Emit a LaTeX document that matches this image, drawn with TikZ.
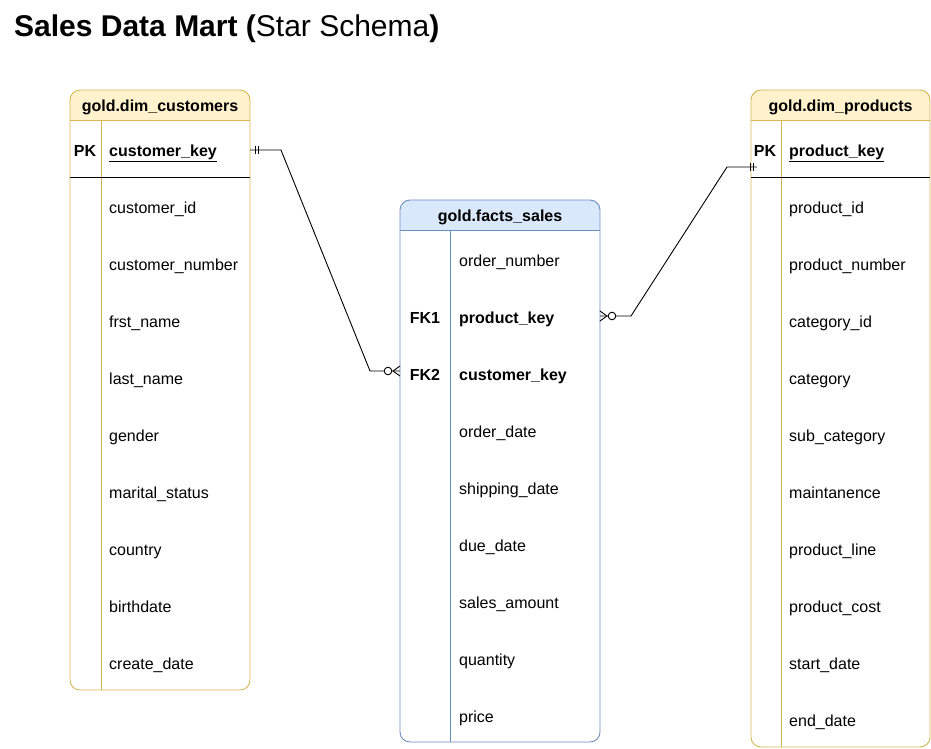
\documentclass[tikz,border=0pt]{standalone}
\usepackage{fontspec}
\setmainfont{Liberation Sans}
\definecolor{yfill}{HTML}{FFF2CC}
\definecolor{ydraw}{HTML}{D6B656}
\definecolor{bfill}{HTML}{DAE8FC}
\definecolor{bdraw}{HTML}{6C8EBF}
\begin{document}
\begin{tikzpicture}[x=1pt,y=-1pt,
  field/.style={anchor=base west,inner sep=0pt,font=\fontsize{16}{19}\selectfont},
  keyf/.style={anchor=base west,inner sep=0pt,font=\fontsize{16}{19}\selectfont\bfseries},
  tag/.style={anchor=base,inner sep=0pt,font=\fontsize{16}{19}\selectfont\bfseries},
  head/.style={anchor=base,inner sep=0pt,font=\fontsize{16}{19}\selectfont\bfseries},
  rel/.style={draw=black,line width=0.9pt},
  tbl/.style={line width=0.9pt,rounded corners=10pt}
]
\useasboundingbox (0,0) rectangle (931,748);

% Title
\node[anchor=base west,inner sep=0pt] (title) at (14,36)
  {\fontsize{30}{36}\selectfont\bfseries Sales Data Mart (\mdseries Star Schema\bfseries)};

% ---------- gold.dim_customers ----------
\begin{scope}
  \clip[rounded corners=10pt] (70,90) rectangle (250,690);
  \fill[yfill] (70,90) rectangle (250,120);
\end{scope}
\draw[tbl,draw=ydraw] (70,90) rectangle (250,690);
\draw[ydraw,line width=0.9pt] (70,120) -- (250,120);
\draw[ydraw,line width=0.9pt] (101,120) -- (101,690);
\draw[black,line width=0.9pt] (70,177) -- (250,177);
\node[head] (custhead) at (160,111) {gold.dim\_customers};
\node[tag] (custpk) at (85,156) {PK};
\node[keyf] (custkey) at (109,156) {\underline{customer\_key}};
\foreach \t [count=\i from 0] in {customer\_id, customer\_number, frst\_name, last\_name, gender, marital\_status, country, birthdate, create\_date}
  \node[field] (cf\i) at (109,213+57*\i) {\t};

% ---------- gold.facts_sales ----------
\begin{scope}
  \clip[rounded corners=10pt] (400,200) rectangle (600,742);
  \fill[bfill] (400,200) rectangle (600,230);
\end{scope}
\draw[tbl,draw=bdraw] (400,200) rectangle (600,742);
\draw[bdraw,line width=0.9pt] (400,230) -- (600,230);
\draw[bdraw,line width=0.9pt] (450,230) -- (450,742);
\node[head] (facthead) at (500,221) {gold.facts\_sales};
\node[field] (f0) at (459,266) {order\_number};
\node[tag] (fk1) at (425,323) {FK1};
\node[keyf] (f1) at (459,323) {product\_key};
\node[tag] (fk2) at (425,380) {FK2};
\node[keyf] (f2) at (459,380) {customer\_key};
\foreach \t [count=\i from 3] in {order\_date, shipping\_date, due\_date, sales\_amount, quantity, price}
  \node[field] (f\i) at (459,266+57*\i) {\t};

% ---------- gold.dim_products ----------
\begin{scope}
  \clip[rounded corners=10pt] (751,90) rectangle (930,747);
  \fill[yfill] (751,90) rectangle (930,120);
\end{scope}
\draw[tbl,draw=ydraw] (751,90) rectangle (930,747);
\draw[ydraw,line width=0.9pt] (751,120) -- (930,120);
\draw[ydraw,line width=0.9pt] (781,120) -- (781,747);
\draw[black,line width=0.9pt] (751,177) -- (930,177);
\node[head] (prodhead) at (840.5,111) {gold.dim\_products};
\node[tag] (prodpk) at (765,156) {PK};
\node[keyf] (prodkey) at (789,156) {\underline{product\_key}};
\foreach \t [count=\i from 0] in {product\_id, product\_number, category\_id, category, sub\_category, maintanence, product\_line, product\_cost, start\_date, end\_date}
  \node[field] (pf\i) at (789,213+57*\i) {\t};

% ---------- relationships ----------
\coordinate (cA) at (250,150);
\coordinate (cB) at (400,371);
\coordinate (fA) at (600,316);
\coordinate (pB) at (751,167);

% customers (one, mandatory) -> facts (zero or many)
\draw[rel] (cA) -- ++(31,0) -- (370,371) -- (cB);
\draw[rel] (cA) ++(5,-4) -- ++(0,8);
\draw[rel] (cA) ++(8,-4) -- ++(0,8);
\draw[rel] (cB) ++(-7,0) -- ++(7,-5);
\draw[rel] (cB) ++(-7,0) -- ++(7,5);
\draw[rel,fill=white] (cB) ++(-12,0) circle (3.8);

% facts (zero or many) -> products (one, mandatory)
\draw[rel] (fA) -- ++(31,0) -- (727,167) -- (pB) -- ++(6,0);
\draw[rel] (fA) ++(0,-5) -- ++(7,5);
\draw[rel] (fA) ++(0,5) -- ++(7,-5);
\draw[rel,fill=white] (fA) ++(12,0) circle (3.8);
\draw[rel] (pB) ++(-1,-4) -- ++(0,8);
\draw[rel] (pB) ++(2,-4) -- ++(0,8);
\end{tikzpicture}
\end{document}
